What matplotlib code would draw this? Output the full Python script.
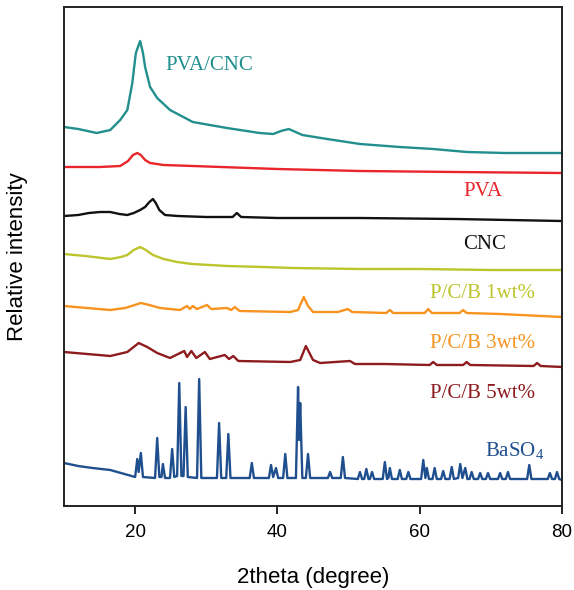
import matplotlib.pyplot as plt

# XRD patterns, intensities above each curve's own baseline
tt_pvacnc = [10, 12, 14.6, 16.5, 17.9, 18.9, 19.6, 20.1, 20.7, 21.1, 21.4, 22.1, 23.1, 24.9, 28.1,
             32.9, 37.5, 39.4, 40.5, 41.6, 43.5, 47, 51.6, 57.2, 61.9, 66.6, 72, 80]
i_pvacnc = [26, 24, 20, 23, 33, 43, 70, 100, 112, 100, 86, 66, 55, 43, 31,
            25, 20, 19, 22, 24, 18, 14, 9, 6, 4, 1, 0, 0]

tt_pva = [10, 15, 17.9, 19.0, 19.7, 20.3, 20.8, 21.4, 22.1, 24, 28.1, 40, 51.6, 65, 80]
i_pva = [6, 6, 7, 12, 18, 20, 18, 13, 10, 8, 7, 4, 2, 1, 0]

tt_cnc = [10, 12, 13.5, 15.1, 16.5, 17.8, 18.9, 19.8, 20.7, 21.4, 22.0, 22.5, 22.9, 23.4, 24.2,
          26, 30, 33.7, 34.3, 34.9, 40, 51.6, 65, 80]
i_cnc = [5, 6, 8, 9, 9, 7, 6, 8, 11, 14, 19, 22, 18, 11, 6,
         5, 4, 4, 8, 4, 3, 3, 2, 0]

tt_1wt = [10, 13, 16.5, 18.0, 18.9, 19.8, 20.7, 21.5, 22.5, 24, 25.9, 28, 32.9, 38, 42.2,
          51.6, 60, 70, 80]
i_1wt = [16, 14, 11, 13, 15, 20, 23, 20, 15, 11, 8, 6, 4, 3, 2,
         1, 1, 0, 0]

tt_3wt = [10, 16.5, 18.6, 19.5, 20.8, 22, 23.5, 26.3, 27.3, 27.7, 28.1, 28.7, 30.1, 30.7, 32.9,
          33.5, 34.0, 34.7, 41.8, 42.9, 43.2, 43.7, 44.3, 45.0, 48.5, 49.9, 50.5, 55.3, 55.8, 56.3,
          60.7, 61.2, 61.7, 65.6, 66.1, 66.6, 71.3, 80]
i_3wt = [11, 7, 9, 11, 14, 12, 9, 7, 11, 8, 11, 8, 12, 8, 9,
         7, 10, 6, 5, 7, 12, 20, 11, 5, 5, 8, 5, 4, 7, 4,
         4, 8, 4, 4, 7, 4, 3, 0]

tt_5wt = [10, 16.5, 18.9, 20.5, 21.7, 23.1, 24.9, 26.9, 27.3, 27.9, 28.6, 29.8, 30.5, 32.6, 33.2,
          33.8, 34.5, 41.8, 43.2, 44.0, 45.0, 46.0, 50.2, 50.9, 55, 61.4, 61.9, 62.4, 66.1, 66.6,
          67.1, 76, 76.5, 77, 80]
i_5wt = [15, 11, 15, 24, 20, 14, 9, 16, 10, 16, 9, 15, 8, 12, 8,
         11, 6, 5, 7, 21, 7, 4, 6, 3, 3, 2, 5, 2, 2, 5,
         2, 1, 4, 1, 0]

tt_baso4 = [10, 12, 14, 16.5, 18, 19.5, 20.0, 20.3, 20.5, 20.8, 21.1, 22.8, 23.1, 23.4, 23.7,
            23.9, 24.2, 24.9, 25.2, 25.5, 25.9, 26.2, 26.5, 26.8, 27.1, 27.4, 28.7, 29.0, 29.3, 31.5,
            31.8, 32.1, 32.8, 33.1, 33.4, 36.1, 36.4, 36.7, 38.8, 39.1, 39.4, 39.8, 40.1, 40.8, 41.1,
            41.4, 42.6, 42.9, 43.05, 43.2, 43.5, 44.0, 44.3, 44.6, 47.1, 47.4, 47.7, 48.9, 49.2, 49.5,
            51.3, 51.6, 51.9, 52.2, 52.5, 52.8, 53.0, 53.3, 53.6, 54.8, 55.1, 55.4, 55.6, 55.8, 56.1,
            56.9, 57.2, 57.5, 58.1, 58.4, 58.7, 60.2, 60.5, 60.8, 61.0, 61.3, 61.8, 62.1, 62.4, 63.0,
            63.3, 63.6, 64.2, 64.5, 64.8, 65.4, 65.7, 66.0, 66.4, 66.7, 67.0, 67.3, 67.6, 68.2, 68.5,
            68.8, 69.3, 69.6, 69.9, 71.0, 71.3, 71.6, 72.1, 72.4, 72.7, 75.1, 75.4, 75.7, 78.0, 78.3,
            78.6, 79.0, 79.3, 79.6, 80]
i_baso4 = [17, 14, 12, 10, 7, 4, 3, 21, 8, 27, 3, 2, 42, 3, 3,
           16, 2, 2, 31, 3, 4, 97, 4, 4, 73, 3, 2, 101, 2, 2,
           57, 2, 2, 46, 2, 2, 17, 2, 2, 15, 3, 12, 2, 2, 26,
           2, 2, 93, 40, 77, 2, 2, 26, 2, 2, 8, 2, 2, 23, 2,
           1, 8, 1, 1, 11, 1, 1, 8, 1, 1, 18, 1, 2, 12, 1,
           1, 10, 1, 1, 8, 1, 1, 20, 2, 12, 1, 1, 12, 1, 1,
           9, 1, 1, 13, 1, 2, 16, 2, 12, 1, 1, 8, 1, 1, 7,
           1, 1, 7, 1, 1, 7, 1, 1, 8, 1, 1, 15, 1, 1, 7,
           1, 1, 8, 1, 0]

names = ['PVA/CNC', 'PVA', 'CNC', 'P/C/B 1wt%', 'P/C/B 3wt%', 'P/C/B 5wt%',
         r'BaSO$_\mathregular{4}$']

# vertical stacking offset of each pattern
offsets = [353, 333, 285, 236, 189, 139, 26]
colors = ['#218f8d', '#e8262b', '#111111', '#bcc52c', '#f7931e', '#8e1b1e', '#1f4f8e']
label_pos = [(24.2, 441), (66.1, 315), (66.1, 262), (61.4, 212), (61.4, 163), (61.4, 113), (69.2, 55)]

patterns = [(tt_pvacnc, i_pvacnc), (tt_pva, i_pva), (tt_cnc, i_cnc), (tt_1wt, i_1wt),
            (tt_3wt, i_3wt), (tt_5wt, i_5wt), (tt_baso4, i_baso4)]

fig = plt.figure(figsize=(5.74, 5.9), dpi=100)
ax = fig.add_axes([64 / 574, 84 / 590, 498 / 574, 499 / 590])

for (tt, inten), off, c, name, (lx, ly) in zip(patterns, offsets, colors, names, label_pos):
    ax.plot(tt, [v + off for v in inten], color=c, lw=1.7)
    ax.text(lx, ly, name, color=c, fontsize=15, family='Liberation Serif',
            ha='left', va='center')

ax.set_xlim(10, 80)
ax.set_ylim(0, 499)
ax.set_xticks([20, 40, 60, 80])
ax.set_yticks([])
ax.tick_params(axis='x', direction='out', length=6, width=1.2, labelsize=13.5, pad=7)
for lab in ax.get_xticklabels():
    lab.set_family('Liberation Sans')
for s in ax.spines.values():
    s.set_linewidth(1.4)
    s.set_color('#222222')

ax.set_xlabel('2theta (degree)', fontsize=16, family='Liberation Sans')
ax.set_ylabel('Relative intensity', fontsize=16, family='Liberation Sans')
ax.xaxis.set_label_coords(0.5, -0.122)
ax.yaxis.set_label_coords(-0.072, 0.5)

fig.savefig('out.png', dpi=100)
